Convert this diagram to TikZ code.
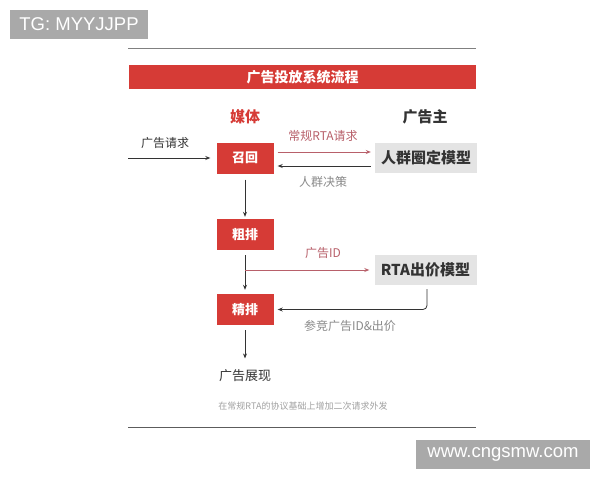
\documentclass[tikz,border=0pt]{standalone}
\usepackage{fontspec}
\setmainfont{Noto Sans CJK SC}
\newfontfamily\wmfont{Liberation Sans}
\usetikzlibrary{positioning,arrows.meta}
\definecolor{adred}{HTML}{D63B36}
\definecolor{linkred}{HTML}{B8606A}
\definecolor{boxgray}{HTML}{E4E4E4}
\definecolor{inkgray}{HTML}{333333}
\definecolor{softgray}{HTML}{8A8A8A}
\definecolor{wmgray}{HTML}{A9A9A9}

\begin{document}
\begin{tikzpicture}[x=1pt,y=-1pt]
                            \tikzset{stage/.style={fill=adred, text=white, inner sep=0pt, minimum width=57pt, minimum height=31pt, font=\bfseries\fontsize{13}{13}\selectfont},
                                     model/.style={fill=boxgray, text=inkgray, inner sep=0pt, minimum width=102pt, minimum height=30pt, font=\bfseries\fontsize{15}{15}\selectfont},
                                     lbl/.style={font=\fontsize{12}{12}\selectfont},
                                     wm/.style={fill=wmgray, text=white, inner sep=0pt, font=\wmfont\fontsize{18.5}{18.5}\selectfont},
                                     flow/.style={-{Stealth[length=5pt,width=4pt]}, inkgray, line width=0.8pt},
                                     rta/.style={-{Stealth[length=5pt,width=4pt]}, linkred, line width=0.8pt}}
                            \useasboundingbox (0,0) rectangle (600,480);
                            \fill[white] (0,0) rectangle (600,480);
                            \node[wm, minimum width=138pt, minimum height=29pt] (tg) at (79,24.5) {TG: MYYJJPP};
                            \node[wm, minimum width=174pt, minimum height=29pt] (site) at (503,454.5) {www.cngsmw.com};
                            \draw[gray, line width=0.8pt] (128,48) -- (476,48);
                            \draw[inkgray!80, line width=1pt] (128,427) -- (476,427);
                            \node[fill=adred, text=white, inner sep=0pt, minimum width=347pt, minimum height=24pt, font=\bfseries\fontsize{14}{14}\selectfont] (title) at (302.5,77) {广告投放系统流程};
                            \node[font=\bfseries\fontsize{15}{15}\selectfont, text=adred] (media) at (245,117) {媒体};
                            \node[font=\bfseries\fontsize{15}{15}\selectfont, text=inkgray] (owner) at (425,117) {广告主};
                            \node[stage] (recall) at (245,158) {召回};
                            \node[stage] (coarse) at (245,234.5) {粗排};
                            \node[stage] (fine) at (245,309.5) {精排};
                            \node[model] (crowd) at (426,158) {人群圈定模型};
                            \node[model] (bid) at (425.5,270) {RTA出价模型};
                            \node[lbl, text=inkgray] (req) at (165,143) {广告请求};
                            \node[lbl, text=linkred] (rtareq) at (323,136) {常规RTA请求};
                            \node[lbl, text=softgray] (decide) at (323,182) {人群决策};
                            \node[lbl, text=linkred] (adid) at (323,253) {广告ID};
                            \node[lbl, text=softgray] (bidback) at (350,326) {参竞广告ID\&出价};
                            \node[font=\fontsize{13}{13}\selectfont, text=inkgray] (show) at (245,376) {广告展现};
                            \node[font=\fontsize{9}{9}\selectfont, text=softgray!80] (note) at (303,406) {在常规RTA的协议基础上增加二次请求外发};
                            \coordinate (entry) at (128,158);
                            \coordinate (split) at (245,270);
                            \draw[flow, shorten >=6pt] (entry) -- (recall.west);
                            \draw[rta, shorten <=4pt, shorten >=4pt] ([yshift=6pt]recall.east) -- ([yshift=6pt]crowd.west);
                            \draw[flow, shorten <=4pt, shorten >=4pt] ([yshift=-8pt]crowd.west) -- ([yshift=-8pt]recall.east);
                            \draw[flow, shorten <=6pt, shorten >=2pt] (recall.south) -- (coarse.north);
                            \draw[flow, shorten <=5pt, shorten >=4pt] (coarse.south) -- (fine.north);
                            \draw[rta, shorten >=5pt] (split) -- (bid.west);
                            \draw[flow, rounded corners=4pt, shorten <=4pt, shorten >=4pt] ([xshift=1.5pt]bid.south) |- (fine.east);
                            \draw[flow, shorten <=5pt, shorten >=8pt] (fine.south) -- (show.north);
                        \end{tikzpicture}
\end{document}
